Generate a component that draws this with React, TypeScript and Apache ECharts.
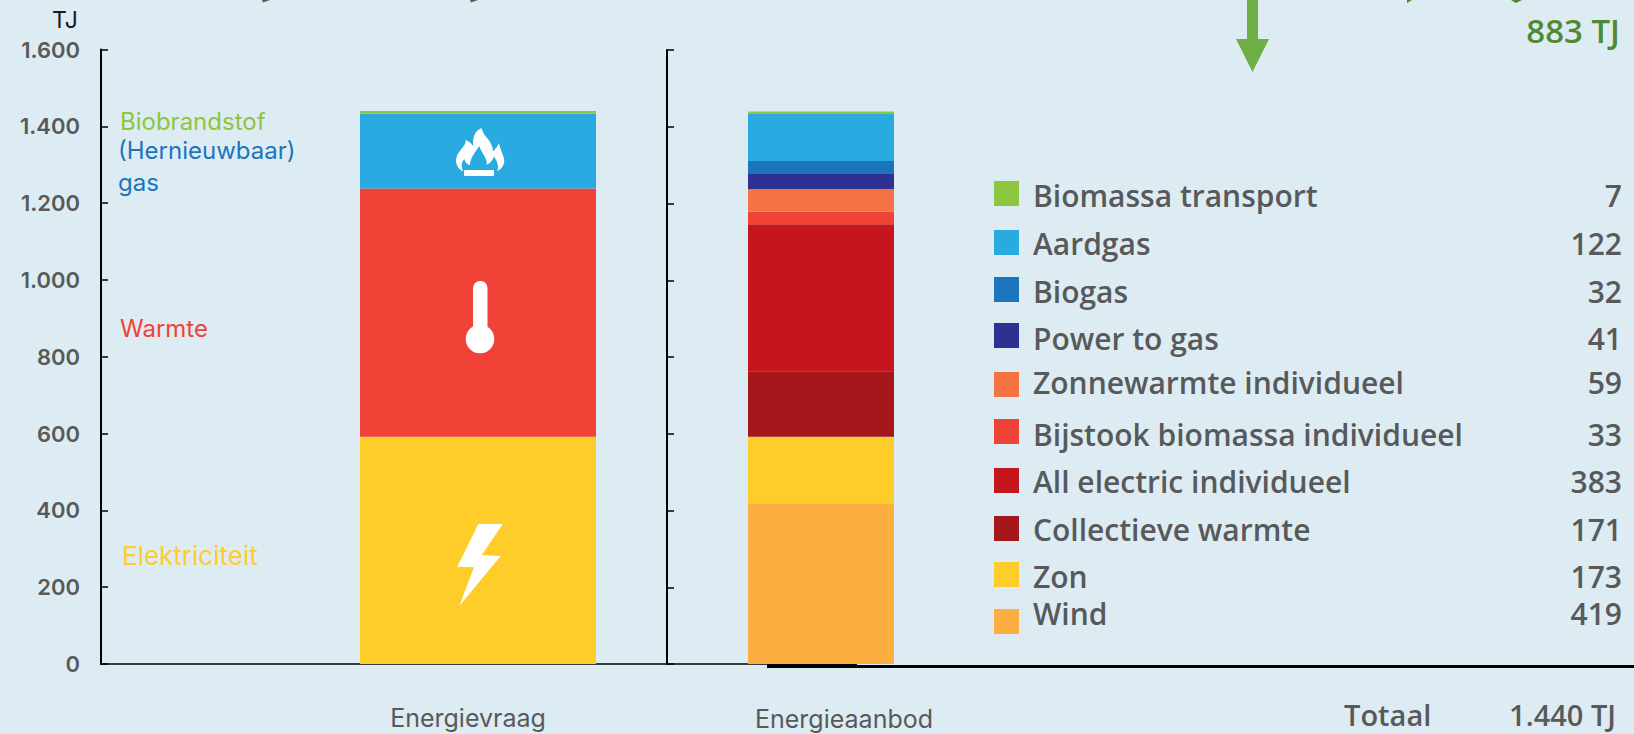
import React, { useEffect, useRef } from "react";
import * as echarts from "echarts";

const BG = "#ddecf3";
const GRAY = "#58595b";

const yTicks = ["0", "200", "400", "600", "800", "1.000", "1.200", "1.400", "1.600"];

const demandCategory = ["Energievraag"];
const demandNames = ["Elektriciteit", "Warmte", "Gas", "Biobrandstof"];
const demandValues = [592, 646, 195, 7];
const demandColors = ["#ffcd29", "#f04236", "#29abe2", "#8dc63f"];

const supplyCategory = ["Energieaanbod"];
const supplyNames = [
  "Biomassa transport",
  "Aardgas",
  "Biogas",
  "Power to gas",
  "Zonnewarmte individueel",
  "Bijstook biomassa individueel",
  "All electric individueel",
  "Collectieve warmte",
  "Zon",
  "Wind",
];
const supplyValues = [7, 122, 32, 41, 59, 33, 383, 171, 173, 419];
const supplyColors = [
  "#8dc63f",
  "#29abe2",
  "#1b75bc",
  "#2e3192",
  "#f47345",
  "#f04236",
  "#c4161c",
  "#a6171b",
  "#ffcd29",
  "#fcaf40",
];
const swatchTops = [181, 230, 277, 323, 372, 419, 468, 516, 562, 609];
const textMids = [195, 243, 291, 338, 382, 434, 481, 529, 576, 613];

const FONT = "Open Sans";
const TIGHT = "Inter";

echarts.graphic.registerShape(
  "flame",
  echarts.graphic.extendPath(
    "M185,84 C165,92 157,112 160,138 C152,130 150,125 137,120 C140,140 112,150 108,180 C108,198 118,210 130,214 C122,198 125,185 133,178 C138,190 142,194 150,195 C150,175 165,158 178,138 C185,160 205,178 200,195 C212,190 220,178 222,170 C232,185 238,200 232,214 C248,205 256,190 252,175 C248,160 240,145 237,130 C232,140 228,145 220,155 C218,135 208,120 198,110 C192,102 187,95 185,84 Z",
    {}
  ) as any
);

function label(text: string, x: number, y: number, color: string, size: number, extra: any = {}) {
  return {
    type: "text",
    x,
    y,
    z: 10,
    style: {
      text,
      fill: color,
      fontFamily: FONT,
      fontSize: size,
      fontWeight: 400,
      verticalAlign: "middle",
      ...extra,
    },
  };
}

export default function App() {
  const ref = useRef<HTMLDivElement>(null);

  useEffect(() => {
    document.body.style.margin = "0";
    document.body.style.background = BG;
    const chart = echarts.init(ref.current!, undefined, { renderer: "svg" });

    const series: any[] = [];
    demandNames.forEach((name, i) => {
      series.push({
        name,
        type: "bar",
        stack: "demand",
        xAxisIndex: 0,
        yAxisIndex: 0,
        barWidth: 236,
        data: [demandValues[i]],
        itemStyle: { color: demandColors[i] },
      });
    });
    [...supplyNames].reverse().forEach((name, ri) => {
      const i = supplyNames.length - 1 - ri;
      series.push({
        name,
        type: "bar",
        stack: "supply",
        xAxisIndex: 1,
        yAxisIndex: 1,
        barWidth: 146,
        data: [supplyValues[i]],
        itemStyle: { color: supplyColors[i] },
      });
    });

    const yAxisCommon = {
      type: "value",
      min: 0,
      max: 1600,
      interval: 200,
      splitLine: { show: false },
      axisLine: { show: true, onZero: false, lineStyle: { color: "#000", width: 2 } },
      axisTick: { show: true, inside: true, length: 7, lineStyle: { color: "#000", width: 1.5 } },
    };

    const tight = { fontFamily: TIGHT };
    const graphics: any[] = [
      label("TJ", 52, 20, "#1a1a1a", 23, tight),
      label("Biobrandstof", 120, 121, "#8dc63f", 24, tight),
      label("(Hernieuwbaar)", 118, 150, "#1b75bc", 24, tight),
      label("gas", 118, 182, "#1b75bc", 24, tight),
      label("Warmte", 120, 328, "#f04236", 24, tight),
      label("Elektriciteit", 122, 555, "#ffcd29", 26, tight),
      // cut-off descenders at the very top edge
      { type: "polygon", z: 10, shape: { points: [[262, 0], [270, 0], [263, 2.5]] }, style: { fill: GRAY } },
      { type: "polygon", z: 10, shape: { points: [[470, 0], [478, 0], [471, 2.5]] }, style: { fill: GRAY } },
      { type: "polygon", z: 10, shape: { points: [[1407, 0], [1412, 0], [1407, 3]] }, style: { fill: "#4f8a32" } },
      { type: "polygon", z: 10, shape: { points: [[1511, 0], [1522, 0], [1516, 3]] }, style: { fill: "#4f8a32" } },
      // icons
      {
        type: "flame",
        z: 10,
        x: 420,
        y: 100,
        scaleX: 1 / 3,
        scaleY: 1 / 3,
        style: { fill: "#fff" },
      },
      {
        type: "rect",
        z: 10,
        shape: { x: 464, y: 170, width: 30, height: 6, r: 1 },
        style: { fill: "#fff" },
      },
      {
        type: "rect",
        z: 10,
        shape: { x: 473, y: 281, width: 14.5, height: 55, r: 7 },
        style: { fill: "#fff" },
      },
      { type: "circle", z: 10, shape: { cx: 480, cy: 339, r: 14.3 }, style: { fill: "#fff" } },
      {
        type: "polygon",
        z: 10,
        shape: {
          points: [
            [478.3, 524],
            [502.7, 524],
            [481.7, 555],
            [500.7, 556],
            [459.3, 606],
            [474, 567.3],
            [457.3, 566.7],
          ],
        },
        style: { fill: "#fff" },
      },
      // arrow
      {
        type: "polygon",
        z: 10,
        shape: {
          points: [
            [1247, 0],
            [1258, 0],
            [1258, 39],
            [1269, 39],
            [1252.5, 72],
            [1236, 39],
            [1247, 39],
          ],
        },
        style: { fill: "#6fae44" },
      },
      label("883 TJ", 1620, 30, "#4f8a32", 33, { align: "right", fontWeight: 600 }),
      // baseline under the legend
      { type: "rect", z: 10, shape: { x: 767, y: 664, width: 90, height: 4 }, style: { fill: "#000" } },
      { type: "rect", z: 10, shape: { x: 857, y: 665, width: 777, height: 3 }, style: { fill: "#000" } },
      label("Totaal", 1344, 714, GRAY, 29, { fontWeight: 600 }),
      label("1.440 TJ", 1616, 714, GRAY, 29, { align: "right", fontWeight: 600 }),
    ];

    supplyNames.forEach((name, i) => {
      graphics.push({
        type: "rect",
        z: 10,
        shape: { x: 994, y: swatchTops[i], width: 25, height: 25 },
        style: { fill: supplyColors[i] },
      });
      graphics.push(label(name, 1033, textMids[i], GRAY, 30, { fontWeight: 600 }));
      graphics.push(
        label(String(supplyValues[i]), 1622, textMids[i], GRAY, 30, {
          align: "right",
          fontWeight: 600,
        })
      );
    });

    chart.setOption({
      animation: false,
      backgroundColor: BG,
      grid: [
        { left: 101, top: 49.5, width: 754, height: 614.5 },
        { left: 667, top: 50, width: 308, height: 614 },
      ],
      xAxis: [
        {
          type: "category",
          gridIndex: 0,
          data: demandCategory,
          axisLine: { show: true, lineStyle: { color: "#000", width: 1.5 } },
          axisTick: { show: false },
          axisLabel: {
            color: GRAY,
            fontFamily: TIGHT,
            fontSize: 25,
            margin: 41,
            padding: [0, 20, 0, 0],
          },
        },
        {
          type: "category",
          gridIndex: 1,
          data: supplyCategory,
          axisLine: { show: false },
          axisTick: { show: false },
          axisLabel: {
            color: GRAY,
            fontFamily: TIGHT,
            fontSize: 25,
            margin: 42,
            padding: [0, 0, 0, 46],
          },
        },
      ],
      yAxis: [
        {
          ...yAxisCommon,
          gridIndex: 0,
          axisLabel: {
            color: GRAY,
            fontFamily: TIGHT,
            fontWeight: 600,
            fontSize: 22,
            margin: 21,
            padding: [0, 0, 2, 0],
            formatter: (_v: number, i: number) => yTicks[i],
          },
        },
        { ...yAxisCommon, gridIndex: 1, axisLabel: { show: false } },
      ],
      series,
      graphic: { elements: graphics },
    });

    return () => chart.dispose();
  }, []);

  return (
    <div
      ref={ref}
      style={{ position: "absolute", left: 0, top: 0, width: 1634, height: 734, background: BG }}
    />
  );
}
